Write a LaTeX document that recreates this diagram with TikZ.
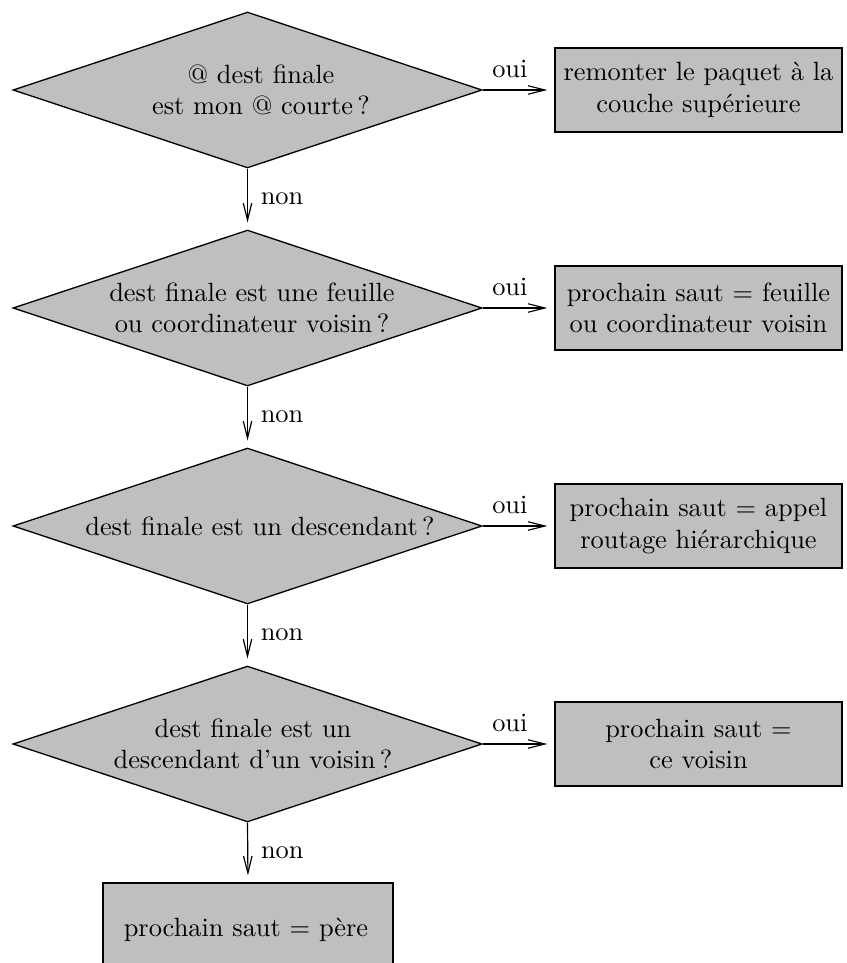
\documentclass[tikz,border=0pt]{standalone}
\usetikzlibrary{shapes.geometric,arrows.meta}
\begin{document}
\begin{tikzpicture}[x=0.379pt,y=-0.379pt,
  dia/.style={diamond, draw, fill=black!25, inner sep=0pt, line width=0.5pt,
    minimum width=177.75pt, minimum height=59.1pt},
  boxn/.style={rectangle, draw, fill=black!25, inner sep=0pt, line width=0.5pt,
    minimum width=108.8pt, minimum height=31.8pt, align=center},
  txt/.style={align=center, inner sep=0pt},
  arr/.style={-{Straight Barb[length=6.4pt,width=3.2pt]}, line width=0.45pt, shorten >=2.6pt},
  oui/.style={anchor=south, inner sep=0pt, yshift=4.3pt},
  non/.style={anchor=west, inner sep=0pt, xshift=4.8pt}]
\useasboundingbox (0,0) rectangle (847,963);
% decisions
\node[dia] (d1) at (247.5,90) {};
\node[dia] (d2) at (247.5,308) {};
\node[dia] (d3) at (247.5,526) {};
\node[dia] (d4) at (247.5,744) {};
\node[txt] (t1) at (261,90) {@ dest finale\\est mon @ courte\,?};
\node[txt] (t2) at (252,308) {dest finale est une feuille\\ou coordinateur voisin\,?};
\node[txt] (t3) at (260,526) {dest finale est un descendant\,?};
\node[txt] (t4) at (253,744) {dest finale est un\\descendant d'un voisin\,?};
% actions
\node[boxn] (b1) at (698.5,90) {remonter le paquet à la\\couche supérieure};
\node[boxn] (b2) at (698.5,308) {prochain saut = feuille\\ou coordinateur voisin};
\node[boxn] (b3) at (698.5,526) {prochain saut = appel\\routage hiérarchique};
\node[boxn] (b4) at (698.5,744) {prochain saut =\\ce voisin};
\begin{scope}
\clip (0,0) rectangle (847,963);
\node[boxn, minimum width=110pt, minimum height=33pt] (b5) at (248,926.5) {};
\end{scope}
\node[txt] (t5) at (246,930) {prochain saut = père};
% connectors
\draw[arr] (d1.east) -- (b1.west) node[oui, pos=0.38] {oui};
\draw[arr] (d2.east) -- (b2.west) node[oui, pos=0.38] {oui};
\draw[arr] (d3.east) -- (b3.west) node[oui, pos=0.38] {oui};
\draw[arr] (d4.east) -- (b4.west) node[oui, pos=0.38] {oui};
\draw[arr] (d1.south) -- (d2.north) node[non, midway] {non};
\draw[arr] (d2.south) -- (d3.north) node[non, midway] {non};
\draw[arr] (d3.south) -- (d4.north) node[non, midway] {non};
\draw[arr] (d4.south) -- (b5.north) node[non, midway] {non};
\end{tikzpicture}
\end{document}
